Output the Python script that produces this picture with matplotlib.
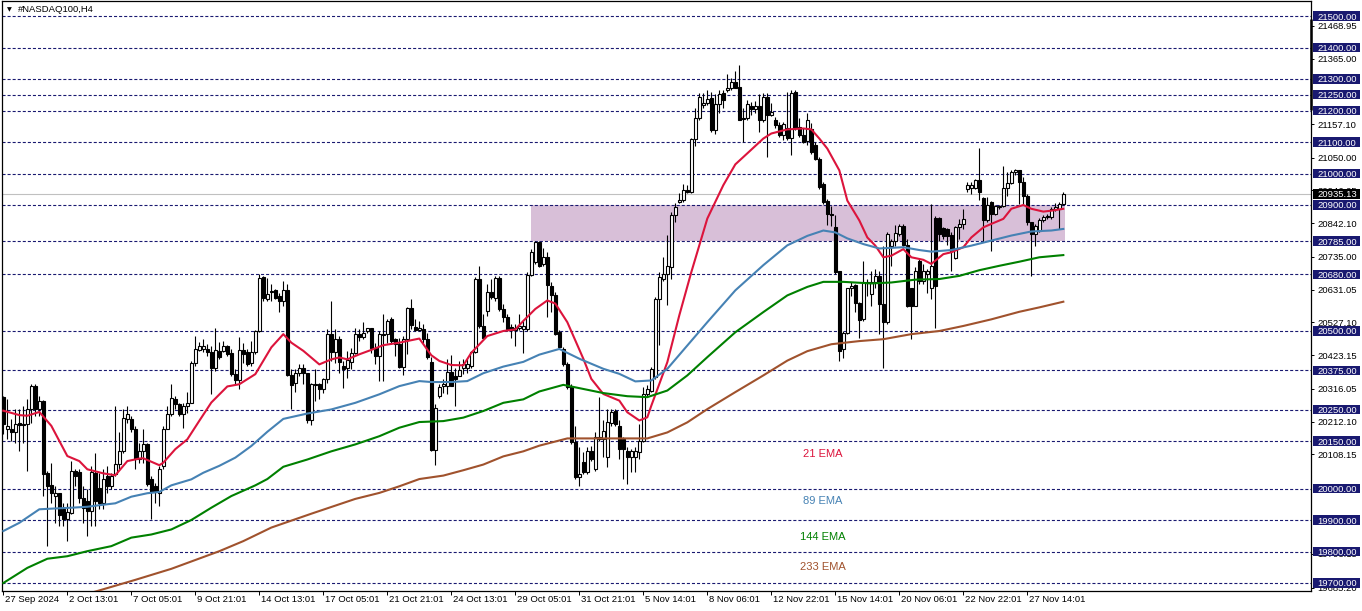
import matplotlib
matplotlib.use('Agg')
import matplotlib.pyplot as plt
import matplotlib.transforms as mtrans
from matplotlib.patches import Rectangle
import numpy as np

plt.rcParams['lines.scale_dashes'] = False
plt.rcParams['font.family'] = ['Liberation Sans', 'DejaVu Sans']

# ---------------- data: H4 candles (bar index 0 = 27 Sep 2024) ----------------
opens = [20289, 20188, 20188, 20178, 20207, 20204, 20204, 20252, 20326, 20252,
         20278, 20048, 20010, 19976, 19985, 19934, 19902, 19923, 20056, 20053,
         19971, 19960, 19929, 20050, 20003, 19955, 20040, 20008, 20045, 20077,
         20119, 20222, 20222, 20190, 20093, 20119, 20140, 20029, 20008, 19987,
         20072, 20190, 20236, 20284, 20268, 20236, 20262, 20273, 20400, 20440,
         20443, 20443, 20434, 20381, 20437, 20437, 20451, 20430, 20363, 20344,
         20439, 20432, 20398, 20432, 20501, 20671, 20601, 20625, 20630, 20612,
         20594, 20630, 20360, 20334, 20368, 20384, 20366, 20217, 20333, 20333,
         20317, 20349, 20489, 20434, 20476, 20389, 20381, 20402, 20431, 20492,
         20482, 20500, 20508, 20447, 20421, 20492, 20490, 20538, 20474, 20458,
         20387, 20474, 20573, 20513, 20504, 20506, 20474, 20402, 20122, 20294,
         20325, 20325, 20370, 20357, 20357, 20384, 20384, 20389, 20434, 20665,
         20516, 20564, 20625, 20606, 20668, 20569, 20546, 20514, 20504, 20508,
         20506, 20506, 20679, 20718, 20784, 20714, 20735, 20643, 20615, 20496,
         20444, 20396, 20322, 20147, 20035, 20083, 20051, 20120, 20062, 20157,
         20157, 20099, 20207, 20247, 20200, 20157, 20120, 20099, 20099, 20115,
         20152, 20300, 20311, 20353, 20603, 20666, 20682, 20703, 20868, 20910,
         20915, 20949, 20942, 21108, 21175, 21217, 21223, 21241, 21138, 21220,
         21255, 21265, 21273, 21290, 21276, 21177, 21175, 21215, 21205, 21215,
         21170, 21244, 21186, 21170, 21154, 21122, 21143, 21112, 21260, 21149,
         21122, 21103, 21140, 21089, 21047, 20967, 20914, 20872, 20829, 20691,
         20442, 20495, 20635, 20647, 20588, 20537, 20652, 20617, 20654, 20675,
         20585, 20527, 20771, 20787, 20808, 20832, 20773, 20636, 20580, 20723,
         20659, 20681, 20638, 20859, 20859, 20826, 20824, 20806, 20731, 20829,
         20840, 20951, 20953, 20953, 20978, 20922, 20851, 20911, 20872, 20893,
         20898, 20953, 20971, 21004, 21010, 20973, 20930, 20845, 20808, 20819,
         20851, 20861, 20861, 20888, 20888, 20904]
highs = [20294, 20284, 20220, 20252, 20252, 20262, 20284, 20331, 20331, 20294,
         20280, 20056, 20082, 20008, 19987, 19955, 19955, 20088, 20061, 20061,
         20008, 19997, 20072, 20114, 20050, 20061, 20072, 20050, 20262, 20178,
         20252, 20262, 20231, 20199, 20146, 20188, 20146, 20040, 20019, 20072,
         20199, 20262, 20331, 20294, 20270, 20273, 20305, 20406, 20485, 20466,
         20474, 20459, 20453, 20508, 20466, 20469, 20455, 20443, 20379, 20480,
         20462, 20443, 20469, 20503, 20681, 20674, 20667, 20649, 20633, 20622,
         20660, 20649, 20378, 20378, 20394, 20394, 20368, 20336, 20378, 20336,
         20352, 20506, 20596, 20506, 20485, 20405, 20437, 20447, 20511, 20506,
         20527, 20511, 20511, 20463, 20500, 20553, 20538, 20543, 20479, 20479,
         20485, 20575, 20601, 20538, 20532, 20522, 20495, 20416, 20267, 20331,
         20349, 20410, 20423, 20384, 20405, 20410, 20410, 20437, 20670, 20707,
         20553, 20649, 20665, 20675, 20675, 20585, 20553, 20522, 20522, 20553,
         20532, 20686, 20760, 20787, 20787, 20762, 20751, 20656, 20624, 20502,
         20449, 20401, 20332, 20200, 20131, 20115, 20131, 20136, 20178, 20290,
         20216, 20253, 20253, 20253, 20216, 20163, 20131, 20126, 20131, 20205,
         20321, 20327, 20385, 20608, 20687, 20735, 20804, 20878, 20905, 20937,
         20968, 20963, 21114, 21207, 21255, 21255, 21265, 21258, 21251, 21265,
         21265, 21315, 21304, 21324, 21343, 21207, 21233, 21228, 21230, 21251,
         21255, 21255, 21223, 21180, 21165, 21165, 21260, 21265, 21265, 21175,
         21143, 21191, 21160, 21100, 21052, 20973, 20920, 20898, 20867, 20691,
         20500, 20638, 20654, 20649, 20591, 20723, 20665, 20691, 20697, 20691,
         20771, 20813, 20792, 20837, 20840, 20840, 20792, 20638, 20702, 20728,
         20713, 20697, 20904, 20866, 20861, 20829, 20826, 20813, 20832, 20856,
         20888, 20973, 20973, 20983, 21081, 20925, 20925, 20914, 20901, 20901,
         21024, 21004, 21010, 21015, 21010, 20989, 20936, 20845, 20840, 20858,
         20867, 20872, 20893, 20907, 20909, 20941]
lows = [20172, 20156, 20151, 20146, 20119, 20146, 20056, 20209, 20231, 20231,
        19976, 19817, 19955, 19891, 19881, 19881, 19833, 19918, 20008, 19955,
        19891, 19849, 19881, 19881, 19934, 19934, 19987, 19997, 20040, 20061,
        20114, 20209, 20178, 20061, 20082, 20082, 20008, 19902, 19955, 19944,
        20061, 20188, 20231, 20252, 20231, 20193, 20241, 20270, 20390, 20437,
        20432, 20421, 20300, 20374, 20411, 20432, 20421, 20358, 20331, 20315,
        20400, 20390, 20390, 20427, 20496, 20596, 20596, 20596, 20601, 20561,
        20580, 20357, 20251, 20306, 20357, 20331, 20209, 20203, 20278, 20283,
        20304, 20336, 20405, 20400, 20368, 20320, 20352, 20378, 20426, 20469,
        20474, 20495, 20431, 20394, 20341, 20341, 20463, 20458, 20421, 20384,
        20360, 20426, 20506, 20500, 20500, 20463, 20410, 20118, 20076, 20288,
        20304, 20299, 20325, 20262, 20357, 20362, 20368, 20384, 20431, 20511,
        20474, 20548, 20601, 20596, 20564, 20527, 20500, 20479, 20453, 20504,
        20431, 20500, 20675, 20713, 20702, 20706, 20544, 20560, 20486, 20443,
        20390, 20316, 20141, 20030, 20009, 20046, 20046, 20088, 20056, 20152,
        20099, 20067, 20200, 20200, 20094, 20030, 20014, 20051, 20051, 20094,
        20147, 20290, 20306, 20348, 20454, 20658, 20581, 20666, 20846, 20905,
        20910, 20937, 20937, 21087, 21170, 21207, 21218, 21133, 21124, 21191,
        21209, 21260, 21265, 21271, 21170, 21101, 21170, 21186, 21191, 21133,
        21165, 21053, 21184, 21143, 21117, 21106, 21106, 21058, 21138, 21117,
        21096, 21090, 21063, 21042, 20951, 20904, 20835, 20832, 20681, 20405,
        20415, 20490, 20612, 20559, 20479, 20532, 20612, 20580, 20638, 20490,
        20383, 20522, 20707, 20771, 20803, 20771, 20575, 20474, 20580, 20649,
        20649, 20622, 20601, 20511, 20787, 20792, 20773, 20691, 20728, 20792,
        20824, 20941, 20935, 20951, 20917, 20787, 20845, 20755, 20867, 20888,
        20893, 20930, 20967, 20994, 20904, 20904, 20835, 20675, 20771, 20813,
        20845, 20856, 20856, 20882, 20824, 20901]
closes = [20204, 20199, 20178, 20204, 20201, 20203, 20252, 20326, 20252, 20278,
          20045, 20008, 19987, 19985, 19916, 19902, 19926, 20056, 20040, 19971,
          19939, 19929, 20053, 19960, 19955, 20029, 20008, 20040, 20077, 20119,
          20223, 20236, 20188, 20093, 20119, 20140, 20013, 19989, 19992, 20061,
          20190, 20236, 20286, 20268, 20236, 20262, 20273, 20400, 20443, 20451,
          20451, 20432, 20381, 20440, 20419, 20451, 20427, 20363, 20344, 20439,
          20427, 20395, 20432, 20501, 20667, 20604, 20617, 20628, 20606, 20594,
          20630, 20360, 20327, 20368, 20384, 20366, 20217, 20331, 20328, 20315,
          20349, 20489, 20434, 20476, 20402, 20378, 20407, 20431, 20492, 20482,
          20495, 20508, 20447, 20421, 20492, 20488, 20532, 20469, 20458, 20387,
          20474, 20573, 20519, 20504, 20511, 20474, 20416, 20122, 20256, 20322,
          20331, 20370, 20325, 20347, 20376, 20394, 20394, 20434, 20665, 20516,
          20479, 20625, 20609, 20668, 20569, 20546, 20506, 20504, 20511, 20516,
          20516, 20679, 20750, 20784, 20707, 20735, 20645, 20615, 20491, 20449,
          20396, 20322, 20147, 20035, 20046, 20051, 20120, 20094, 20162, 20162,
          20183, 20210, 20244, 20205, 20125, 20125, 20099, 20120, 20120, 20152,
          20300, 20316, 20380, 20603, 20671, 20682, 20706, 20868, 20894, 20915,
          20947, 20942, 21108, 21177, 21244, 21223, 21237, 21138, 21220, 21251,
          21233, 21273, 21290, 21273, 21170, 21173, 21220, 21205, 21215, 21170,
          21244, 21186, 21194, 21154, 21122, 21156, 21112, 21255, 21143, 21122,
          21101, 21170, 21068, 21047, 20957, 20909, 20872, 20867, 20686, 20437,
          20495, 20635, 20644, 20588, 20535, 20656, 20656, 20656, 20675, 20585,
          20527, 20808, 20787, 20811, 20832, 20773, 20580, 20580, 20691, 20659,
          20691, 20691, 20707, 20644, 20808, 20803, 20803, 20755, 20829, 20840,
          20856, 20964, 20964, 20978, 20941, 20851, 20900, 20872, 20896, 20898,
          20953, 20971, 21004, 21010, 20973, 20930, 20845, 20808, 20832, 20851,
          20861, 20866, 20888, 20893, 20904, 20935.13]

# EMA lines read at sampled bars
ema21_idx = [0, 4, 6, 9, 12, 16, 19, 21, 25, 28, 31, 34, 35, 39, 40, 43, 46, 49, 52, 56,
             59, 63, 67, 70, 72, 75, 79, 82, 84, 86, 89, 92, 95, 99, 104, 107, 109, 112, 115, 117,
             121, 125, 128, 130, 133, 136, 138, 141, 145, 147, 150, 154, 156, 159, 161, 162, 166, 169, 172, 176,
             180, 183, 186, 190, 192, 196, 200, 202, 204, 206, 209, 211, 214, 216, 218, 220, 222, 225, 227, 230,
             232, 235, 237, 240, 242, 245, 247, 250, 252, 255, 257, 260, 262, 265]
ema21_val = [20247, 20233, 20231, 20243, 20199, 20103, 20087, 20061, 20048, 20042, 20087, 20095, 20096, 20074, 20082, 20125, 20156, 20215, 20273, 20324,
             20331, 20363, 20448, 20490, 20463, 20437, 20394, 20410, 20416, 20410, 20426, 20440, 20455, 20463, 20476, 20423, 20405, 20392, 20391, 20431,
             20484, 20500, 20505, 20532, 20570, 20597, 20587, 20528, 20412, 20348, 20300, 20279, 20242, 20216, 20226, 20263, 20401, 20550, 20687, 20857,
             20963, 21029, 21064, 21111, 21127, 21140, 21143, 21140, 21111, 21079, 21010, 20914, 20851, 20797, 20771, 20734, 20739, 20760, 20734, 20726,
             20713, 20744, 20750, 20766, 20797, 20829, 20840, 20856, 20888, 20900, 20888, 20879, 20882, 20888]
ema89_idx = [0, 4, 9, 12, 17, 21, 24, 28, 32, 36, 39, 42, 47, 50, 54, 58, 62, 66, 70, 76,
             82, 88, 94, 99, 104, 107, 112, 116, 120, 125, 130, 134, 139, 144, 150, 154, 158, 162, 166, 171,
             176, 183, 190, 196, 201, 205, 208, 211, 215, 219, 225, 229, 232, 237, 242, 247, 252, 257, 262, 265]
ema89_val = [19865, 19891, 19934, 19936, 19939, 19942, 19947, 19953, 19974, 19985, 19989, 20010, 20029, 20050, 20072, 20098, 20135, 20180, 20221, 20238,
             20251, 20272, 20299, 20325, 20341, 20338, 20338, 20341, 20366, 20387, 20402, 20425, 20443, 20412, 20380, 20364, 20340, 20343, 20380, 20454,
             20528, 20629, 20709, 20772, 20802, 20819, 20813, 20794, 20776, 20762, 20766, 20757, 20752, 20757, 20771, 20787, 20803, 20816, 20819, 20824]
ema144_idx = [0, 6, 11, 16, 21, 27, 32, 37, 42, 47, 52, 57, 63, 66, 70, 76, 82, 88, 94, 99,
              104, 110, 115, 120, 125, 130, 134, 140, 145, 150, 156, 161, 166, 171, 176, 183, 190, 196, 201, 205,
              210, 217, 222, 228, 234, 239, 244, 249, 254, 259, 265]
ema144_val = [19700, 19748, 19777, 19785, 19801, 19817, 19844, 19854, 19870, 19900, 19939, 19976, 20010, 20030, 20069, 20092, 20118, 20140, 20166, 20193,
              20211, 20214, 20225, 20246, 20272, 20283, 20308, 20329, 20316, 20303, 20293, 20290, 20311, 20359, 20417, 20496, 20560, 20613, 20640, 20656,
              20656, 20651, 20654, 20663, 20665, 20675, 20693, 20707, 20720, 20734, 20741]
ema233_idx = [18, 22, 33, 42, 48, 54, 60, 67, 77, 88, 94, 99, 104, 110, 115, 120, 125, 130, 134, 141,
              150, 161, 166, 171, 176, 183, 190, 196, 201, 207, 214, 220, 227, 234, 240, 247, 254, 259, 265]
ema233_val = [19655, 19669, 19710, 19745, 19773, 19801, 19833, 19876, 19920, 19967, 19986, 20007, 20030, 20041, 20058, 20076, 20102, 20118, 20136, 20159,
              20159, 20159, 20178, 20210, 20252, 20306, 20359, 20406, 20436, 20458, 20468, 20474, 20490, 20500, 20516, 20537, 20561, 20575, 20593]

level_lines = [21500, 21400, 21300, 21250, 21200, 21100, 21000, 20900, 20785, 20680,
               20500, 20375, 20250, 20150, 20000, 19900, 19800, 19700]
axis_ticks = [21468.95, 21365.00, 21157.10, 21050.00, 20946.05, 20842.10, 20735.00, 20631.05,
              20527.10, 20423.15, 20316.05, 20212.10, 20108.15, 19793.15, 19685.20]
last_price = 20935.13
zone_low, zone_high = 20785, 20900
zone_start_bar, zone_end_bar = 131.9, 265.4
time_tick_bars = list(range(0, 257, 16))
time_labels = ['27 Sep 2024', '2 Oct 13:01', '7 Oct 05:01', '9 Oct 21:01', '14 Oct 13:01',
               '17 Oct 05:01', '21 Oct 21:01', '24 Oct 13:01', '29 Oct 05:01', '31 Oct 21:01',
               '5 Nov 14:01', '8 Nov 06:01', '12 Nov 22:01', '15 Nov 14:01', '20 Nov 06:01',
               '22 Nov 22:01', '27 Nov 14:01']
ema_names = ['21 EMA', '89 EMA', '144 EMA', '233 EMA']
ema_colors = ['#DC143C', '#4682B4', '#008000', '#A0522D']

# ---------------- figure ----------------
W, H = 1362, 611
fig = plt.figure(figsize=(W / 100, H / 100), dpi=100)
ax_l, ax_r, ax_t, ax_b = 2, 1311, 1, 591
ax = fig.add_axes([ax_l / W, 1 - ax_b / H, (ax_r - ax_l) / W, (ax_b - ax_t) / H])
px_per_price = 567 / 1800.0
y_top = 21500 + (16 - ax_t) / px_per_price
y_bot = 21500 - (ax_b - 16) / px_per_price
ax.set_ylim(y_bot, y_top)
ax.set_xlim(-0.33, (ax_r - 3.33) / 4.0)
ax.set_facecolor('white')
for s in ax.spines.values():
    s.set_color('black')
    s.set_linewidth(0.9)

trans_y = mtrans.blended_transform_factory(ax.transAxes, ax.transData)
trans_x = mtrans.blended_transform_factory(ax.transData, ax.transAxes)

# zone rectangle
ax.add_patch(Rectangle((zone_start_bar, zone_low), zone_end_bar - zone_start_bar, zone_high - zone_low,
                       facecolor='#D8BFD8', edgecolor='none', zorder=1))
# level lines
for lv in level_lines:
    ax.axhline(lv, color='#191970', lw=0.8, linestyle=(0, (2.2, 1.45)), zorder=2)
ax.axhline(last_price, color='#C0C0C0', lw=0.8, zorder=2)

# candles
o = np.array(opens, float); h = np.array(highs, float)
l = np.array(lows, float); c = np.array(closes, float)
x = np.arange(len(c))
ax.vlines(x, l, h, color='black', linewidth=0.8, zorder=3)
up = c >= o
bottom = np.minimum(o, c)
height = np.maximum(np.abs(c - o), 1.5)
ax.bar(x[up], height[up], bottom=bottom[up], width=0.62, facecolor='white',
       edgecolor='black', linewidth=0.8, zorder=4)
ax.bar(x[~up], height[~up], bottom=bottom[~up], width=0.62, facecolor='black',
       edgecolor='black', linewidth=0.8, zorder=4)

# EMAs
for (ix, vv), col in zip([(ema21_idx, ema21_val), (ema89_idx, ema89_val),
                          (ema144_idx, ema144_val), (ema233_idx, ema233_val)], ema_colors):
    ax.plot(ix, vv, color=col, lw=1.5, zorder=5, solid_joinstyle='round')

# EMA legend texts
ema_label_y = [20109, 19960, 19846, 19751]
for name, col, yy in zip(ema_names, ema_colors, ema_label_y):
    ax.text(204.9, yy, name, color=col, fontsize=8, ha='center', va='center', zorder=6)

# right axis
ax.yaxis.tick_right()
ax.set_yticks(axis_ticks)
ax.set_yticklabels([f'{v:.2f}' for v in axis_ticks])
ax.tick_params(axis='y', direction='out', length=2.2, width=0.7, pad=2.4, labelsize=6.8,
               colors='black')
box_h = 9.5 / px_per_price
box_x0 = (1312.7 - ax_l) / (ax_r - ax_l)
box_w = (1359.5 - 1312.7) / (ax_r - ax_l)
txt_x = (1317.0 - ax_l) / (ax_r - ax_l)
for lv in level_lines:
    ax.add_patch(Rectangle((box_x0, lv - box_h / 2), box_w, box_h, transform=trans_y,
                           facecolor='#191970', edgecolor='none', clip_on=False, zorder=10))
    ax.text(txt_x, lv, f'{lv:.2f}', transform=trans_y, color='white', fontsize=6.8,
            ha='left', va='center_baseline', zorder=11, clip_on=False)
ax.add_patch(Rectangle((box_x0, last_price - box_h / 2), box_w, box_h, transform=trans_y,
                       facecolor='black', edgecolor='none', clip_on=False, zorder=10))
ax.text(txt_x, last_price, f'{last_price:.2f}', transform=trans_y, color='white', fontsize=6.8,
        ha='left', va='center_baseline', zorder=11, clip_on=False)
# thick marker on the price scale
ax.plot([1.0, 1.0], [21489.5, 21201.6], transform=trans_y, color='black', lw=1.8,
        solid_capstyle='butt', clip_on=False, zorder=12)

# bottom time axis
ax.set_xticks(time_tick_bars)
ax.set_xticklabels([])
ax.tick_params(axis='x', direction='out', length=3, width=0.7)
lab_y = -(600 - ax_b) / (ax_b - ax_t)
for b, t in zip(time_tick_bars, time_labels):
    ax.text(b + 0.4, lab_y, t, transform=trans_x, fontsize=6.8, ha='left', va='center',
            color='black', clip_on=False)

# title
fig.text(6.5 / W, 1 - 10 / H, '\u25BC', fontsize=4.5, family=['DejaVu Sans'], ha='left', va='center')
fig.text(18 / W, 1 - 10 / H, '#NASDAQ100,H4', fontsize=6.8, ha='left', va='center', color='black')

fig.savefig('out.png', dpi=100, facecolor='white')
